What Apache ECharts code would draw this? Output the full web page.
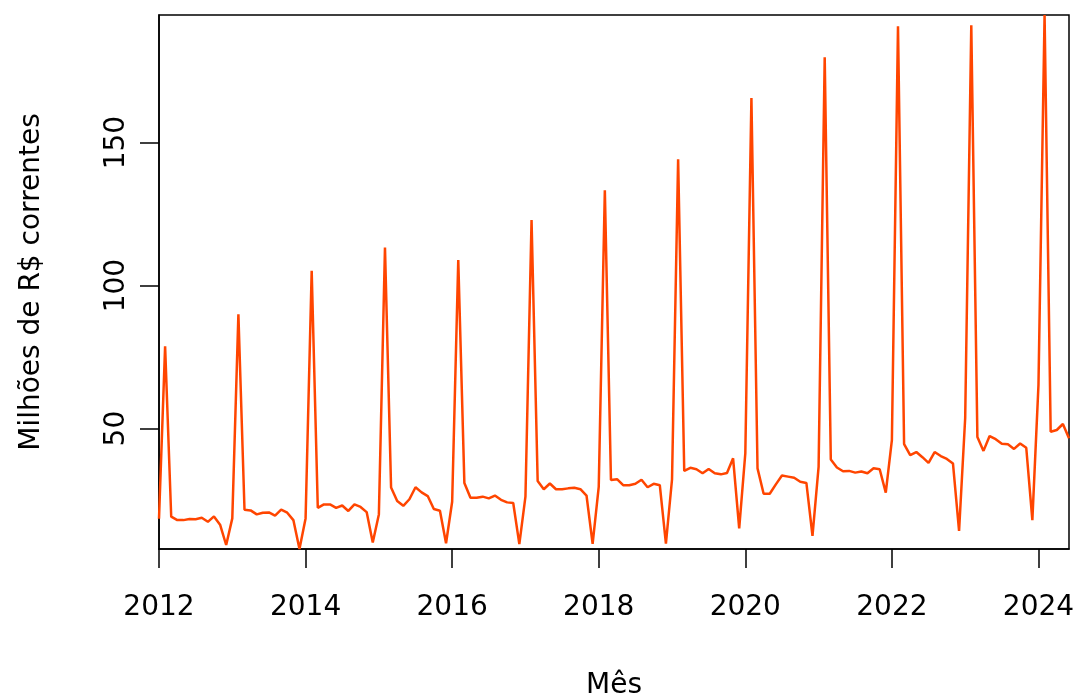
<!DOCTYPE html>
<html>
<head>
<meta charset="utf-8">
<script src="https://cdn.jsdelivr.net/npm/echarts@6/dist/echarts.min.js"></script>
<style>
  html, body { margin: 0; padding: 0; background: #fff; }
  #chart { width: 1077px; height: 696px; }
</style>
</head>
<body>
<div id="chart"></div>
<script>
// Monthly series, Jan 2012 .. Jun 2024 (Milhões de R$ correntes)
const startYear = 2012;
const values2012 = [18.5, 78.8, 19.2, 18.0, 18.0, 18.4, 18.3, 18.8, 17.4, 19.3, 16.4, 9.3];
const values2013 = [18.6, 90.0, 21.6, 21.4, 20.0, 20.6, 20.7, 19.6, 21.7, 20.6, 18.0, 7.9];
const values2014 = [18.6, 105.2, 22.3, 23.5, 23.5, 22.3, 23.1, 21.2, 23.5, 22.6, 20.8, 10.2];
const values2015 = [20.0, 113.3, 29.4, 24.7, 23.0, 25.3, 29.5, 27.7, 26.4, 21.9, 21.3, 9.9];
const values2016 = [24.4, 108.9, 31.0, 25.8, 25.8, 26.2, 25.6, 26.6, 25.1, 24.2, 24.0, 9.6];
const values2017 = [26.2, 122.9, 31.7, 28.8, 30.8, 28.8, 28.8, 29.1, 29.3, 28.8, 26.6, 9.7];
const values2018 = [29.6, 133.3, 32.0, 32.3, 30.2, 30.2, 30.7, 32.1, 29.5, 30.7, 30.2, 9.8];
const values2019 = [32.2, 144.2, 35.2, 36.3, 35.8, 34.4, 35.9, 34.4, 34.0, 34.5, 39.6, 15.1];
const values2020 = [41.3, 165.6, 36.1, 27.2, 27.2, 30.5, 33.6, 33.2, 32.8, 31.4, 31.0, 12.5];
const values2021 = [36.6, 179.8, 39.2, 36.4, 35.1, 35.2, 34.6, 35.0, 34.4, 36.1, 35.8, 27.6];
const values2022 = [46.0, 190.7, 44.6, 40.7, 41.8, 40.0, 38.0, 41.8, 40.4, 39.4, 37.8, 14.2];
const values2023 = [53.6, 191.0, 47.1, 42.2, 47.4, 46.3, 44.7, 44.5, 42.9, 44.8, 43.3, 18.0];
const values2024 = [65.2, 194.6, 48.9, 49.5, 51.6, 46.6];

const xTickLabels = [2012, 2014, 2016, 2018, 2020, 2022, 2024];
const yTickLabels = [50, 100, 150];
const xTitle = 'Mês';
const yTitle = 'Milhões de R$ correntes';

const allValues = [].concat(values2012, values2013, values2014, values2015, values2016,
  values2017, values2018, values2019, values2020, values2021, values2022, values2023, values2024);
const seriesData = allValues.map((v, i) => [startYear + i / 12, v]);
const xMin = startYear;
const xMax = startYear + (allValues.length - 1) / 12;
const yMin = Math.min.apply(null, allValues);
const yMax = Math.max.apply(null, allValues);

const FONT = '"DejaVu Sans"';
const FS = 28;

const chart = echarts.init(document.getElementById('chart'), null, { renderer: 'canvas' });
chart.setOption({
  animation: false,
  backgroundColor: '#ffffff',
  grid: {
    left: 159, right: 8, top: 15, bottom: 147,
    containLabel: false,
    outerBoundsMode: 'none',
    show: true, borderColor: '#000', borderWidth: 1.5, backgroundColor: 'transparent'
  },
  xAxis: {
    type: 'value',
    min: xMin, max: xMax,
    name: xTitle,
    nameLocation: 'middle',
    nameGap: 123,
    nameTextStyle: { fontFamily: FONT, fontSize: FS, color: '#000' },
    axisLine: { show: true, onZero: false, lineStyle: { color: '#000', width: 1.5 } },
    axisTick: { show: true, length: 19, inside: false, customValues: xTickLabels, lineStyle: { color: '#000', width: 1.5 } },
    axisLabel: {
      customValues: xTickLabels, margin: 45,
      fontFamily: FONT, fontSize: FS, color: '#000',
      formatter: v => String(Math.round(v))
    },
    splitLine: { show: false }
  },
  yAxis: {
    type: 'value',
    min: yMin, max: yMax,
    name: yTitle,
    nameLocation: 'middle',
    nameGap: 113,
    nameTextStyle: { fontFamily: FONT, fontSize: FS, color: '#000' },
    axisLine: { show: true, onZero: false, lineStyle: { color: '#000', width: 1.5 } },
    axisTick: { show: true, length: 19, inside: false, customValues: yTickLabels, lineStyle: { color: '#000', width: 1.5 } },
    axisLabel: {
      customValues: yTickLabels, rotate: 90, margin: 28,
      fontFamily: FONT, fontSize: FS, color: '#000',
      formatter: v => String(Math.round(v))
    },
    splitLine: { show: false }
  },
  series: [{
    type: 'line',
    data: seriesData,
    showSymbol: false,
    symbol: 'none',
    clip: true,
    lineStyle: { color: '#FF4500', width: 2.5 },
    emphasis: { disabled: true }
  }]
});
</script>
</body>
</html>
